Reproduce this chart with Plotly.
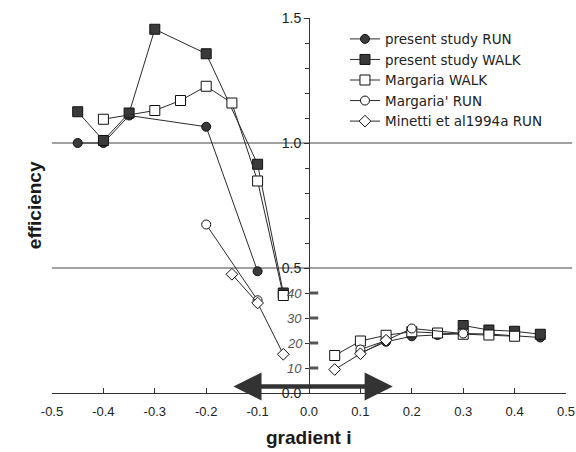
import plotly.graph_objects as go

# ---- data ----
run_x = [-0.45, -0.40, -0.35, -0.20, -0.10, None, 0.10, 0.15, 0.20, 0.25, 0.30, 0.35, 0.40, 0.45]
run_y = [1.00, 1.00, 1.11, 1.065, 0.487, None, 0.160, 0.205, 0.227, 0.232, 0.238, 0.236, 0.230, 0.222]

walk_x = [-0.45, -0.40, -0.35, -0.30, -0.20, -0.10, -0.05, None, 0.30, 0.35, 0.40, 0.45]
walk_y = [1.125, 1.01, 1.12, 1.455, 1.357, 0.915, 0.400, None, 0.270, 0.252, 0.247, 0.235]

mwalk_x = [-0.40, -0.30, -0.25, -0.20, -0.15, -0.10, -0.05, None, 0.05, 0.10, 0.15, 0.20, 0.25, 0.30, 0.35, 0.40]
mwalk_y = [1.095, 1.13, 1.17, 1.227, 1.16, 0.848, 0.390, None, 0.150, 0.208, 0.231, 0.245, 0.240, 0.235, 0.232, 0.227]

mrun_x = [-0.20, -0.10, None, 0.10, 0.15, 0.20, 0.30]
mrun_y = [0.674, 0.371, None, 0.174, 0.210, 0.258, 0.238]

minetti_x = [-0.15, -0.10, -0.05, None, 0.05, 0.10, 0.15]
minetti_y = [0.475, 0.360, 0.155, None, 0.094, 0.157, 0.211]

x_ticks = [-0.5, -0.4, -0.3, -0.2, -0.1, 0.0, 0.1, 0.2, 0.3, 0.4, 0.5]
x_tick_text = ["-0.5", "-0.4", "-0.3", "-0.2", "-0.1", "0.0", "0.1", "0.2", "0.3", "0.4", "0.5"]
y_ticks = [0.0, 0.5, 1.0, 1.5]
y_tick_text = ["0.0", "0.5", "1.0", "1.5"]
hand_labels = ["10", "20", "30", "40"]
hand_vals = [0.1, 0.2, 0.3, 0.4]

LINE = "#2a2a2a"
FILL = "#3a3a3a"
FONT = "Liberation Sans, Arial, sans-serif"

fig = go.Figure()

def add(x, y, name, symbol, fill, size):
    fig.add_trace(go.Scatter(
        x=x, y=y, name=name, mode="lines+markers", connectgaps=False,
        line=dict(color=LINE, width=1),
        marker=dict(symbol=symbol, size=size, color=fill,
                    line=dict(color="#111111", width=1)),
        cliponaxis=False,
    ))

add(run_x, run_y, "present study RUN", "circle", FILL, 9)
add(walk_x, walk_y, "present study WALK", "square", FILL, 10)
add(mwalk_x, mwalk_y, "Margaria WALK", "square", "white", 10)
add(mrun_x, mrun_y, "Margaria' RUN", "circle", "white", 9)
add(minetti_x, minetti_y, "Minetti et al1994a RUN", "diamond", "white", 9)

shapes = []
for yv in (1.0, 0.5):
    shapes.append(dict(type="line", xref="paper", yref="y", x0=0, x1=1.012, y0=yv, y1=yv,
                       line=dict(color="#444444", width=1), layer="below"))
for hv in hand_vals:
    shapes.append(dict(type="line", xref="x", yref="y", x0=0.0, x1=0.018, y0=hv, y1=hv,
                       line=dict(color="#555555", width=3)))
fig.update_layout(shapes=shapes)

annotations = [
    dict(x=0.163, y=0.026, ax=-0.150, ay=0.026, xref="x", yref="y", axref="x", ayref="y",
         text="", showarrow=True, arrowside="end+start", arrowhead=2, arrowsize=1.25,
         arrowwidth=4.5, arrowcolor="#333333", standoff=0, startstandoff=0),
    dict(x=-0.058, y=0.5, xref="paper", yref="paper", text="<b>efficiency</b>", textangle=-90,
         showarrow=False, font=dict(family=FONT, size=19, color="#1a1a1a")),
    dict(x=0.5, y=-0.118, xref="paper", yref="paper", text="<b>gradient i</b>",
         showarrow=False, yanchor="middle", font=dict(family=FONT, size=19, color="#1a1a1a")),
]
for lab, hv in zip(hand_labels, hand_vals):
    annotations.append(dict(x=-0.028, y=hv, xref="x", yref="y", text="<i>" + lab + "</i>",
                            showarrow=False, font=dict(family=FONT, size=13, color="#555555")))
fig.update_layout(annotations=annotations)

fig.update_layout(
    width=576, height=452,
    margin=dict(l=52, r=10, t=18, b=59, autoexpand=False),
    paper_bgcolor="white", plot_bgcolor="white",
    font=dict(family=FONT, color="#222222"),
    showlegend=True,
    legend=dict(x=0.57, y=0.985, xanchor="left", yanchor="top",
                bgcolor="rgba(0,0,0,0)",
                font=dict(family="DejaVu Sans, sans-serif", size=13.5, color="#222222"),
                tracegroupgap=0, itemwidth=30),
    xaxis=dict(range=[-0.5, 0.5], tickvals=x_ticks, ticktext=x_tick_text,
               automargin=False, ticklabeloverflow="allow",
               showline=True, linecolor="#333333", linewidth=1,
               ticks="inside", ticklen=5, tickcolor="#333333",
               showgrid=False, zeroline=False,
               tickfont=dict(family=FONT, size=13, color="#222222"),
               ticklabelstandoff=6),
    yaxis=dict(range=[0, 1.5], tickvals=y_ticks, ticktext=y_tick_text,
               anchor="free", position=0.5, automargin=False, ticklabeloverflow="allow",
               showline=True, linecolor="#333333", linewidth=1,
               ticks="outside", ticklen=5, tickcolor="#333333",
               minor=dict(dtick=0.1, ticks="outside", ticklen=4, tickcolor="#333333"),
               showgrid=False, zeroline=False,
               tickfont=dict(family=FONT, size=14, color="#222222")),
)

fig.write_html("out.html", config={"displayModeBar": False},
               post_script="document.body.style.margin='0px';document.body.style.overflow='hidden';")
